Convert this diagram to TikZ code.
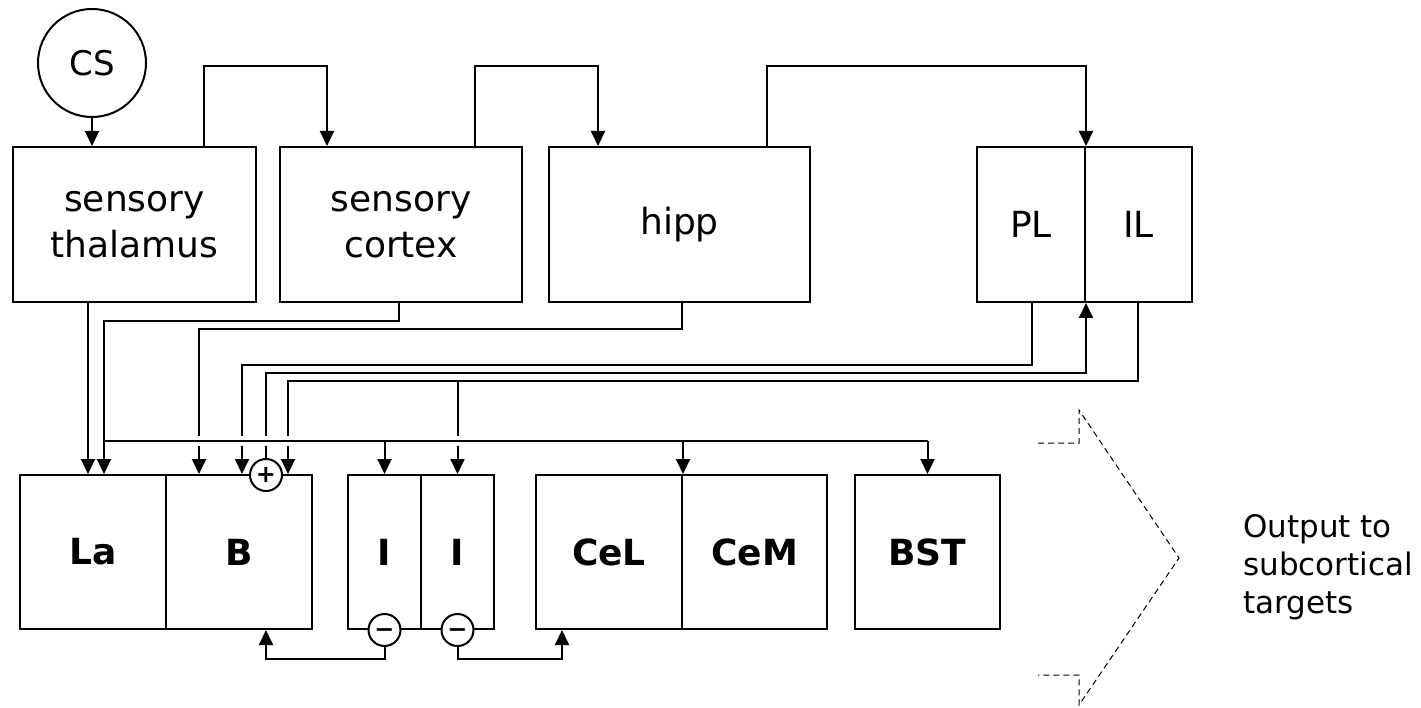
\documentclass[tikz,border=0pt]{standalone}
\usepackage{fontspec}
\setmainfont{DejaVu Sans}
\usetikzlibrary{arrows.meta}

\tikzset{
  area/.style={draw, line width=2pt, minimum height=155pt, inner sep=0pt, align=center, font=\fontsize{36}{46}\selectfont},
  nucleus/.style={draw, line width=2pt, minimum height=154pt, inner sep=0pt, font=\bfseries\fontsize{36}{46}\selectfont},
  sign/.style={draw, circle, fill=white, line width=2pt, minimum size=32pt, inner sep=0pt, font=\bfseries\fontsize{24}{24}\selectfont},
  wire/.style={line width=2pt, -{Triangle[length=15pt, width=14pt]}},
}

\begin{document}
\begin{tikzpicture}[x=1pt, y=-1pt]
    \useasboundingbox (0,0) rectangle (1421,708);

    % Define the routing rows
    \coordinate (over) at (0,66);
    \coordinate (ctxRow) at (0,321);
    \coordinate (hippRow) at (0,329);
    \coordinate (plRow) at (0,365);
    \coordinate (bRow) at (0,373);
    \coordinate (ilRow) at (0,381);
    \coordinate (busRow) at (0,441);
    \coordinate (underRow) at (0,659);

    % Define the pin columns
    \coordinate (thalUp) at (204,0);
    \coordinate (ctxIn) at (327,0);
    \coordinate (ctxUp) at (475,0);
    \coordinate (hippIn) at (598,0);
    \coordinate (hippUp) at (767,0);
    \coordinate (thalDown) at (88,0);
    \coordinate (laIn) at (104,0);
    \coordinate (ctxDown) at (399,0);
    \coordinate (hippDown) at (682,0);
    \coordinate (bInA) at (199,0);
    \coordinate (plDown) at (1032,0);
    \coordinate (bInB) at (242,0);
    \coordinate (ilDown) at (1138,0);
    \coordinate (bInC) at (288,0);
    \coordinate (celBack) at (562,0);

    % Cortical and thalamic areas
    \node[draw, circle, line width=2pt, minimum size=108pt, inner sep=0pt, font=\fontsize{34}{34}\selectfont] (CS) at (92,63) {CS};
    \node[area, minimum width=243pt] (thal) at (134.5,224.5) {sensory\\thalamus};
    \node[area, minimum width=242pt] (ctx) at (401,224.5) {sensory\\cortex};
    \node[area, minimum width=261pt] (hipp) at (679.5,224.5) {hipp};
    \node[area, minimum width=108pt] (PL) at (1031,224.5) {PL};
    \node[area, minimum width=107pt] (IL) at (1138.5,224.5) {IL};

    % Amygdala nuclei
    \node[nucleus, minimum width=146pt] (La) at (93,552) {La};
    \node[nucleus, minimum width=146pt] (B) at (239,552) {B};
    \node[nucleus, minimum width=73pt] (I1) at (384.5,552) {I};
    \node[nucleus, minimum width=73pt] (I2) at (457.5,552) {I};
    \node[nucleus, minimum width=146pt] (CeL) at (609,552) {CeL};
    \node[nucleus, minimum width=145pt] (CeM) at (754.5,552) {CeM};
    \node[nucleus, minimum width=145pt] (BST) at (927.5,552) {BST};

    % Excitatory and inhibitory signs
    \node[sign] (plus) at (266,475) {+};
    \node[sign] (minusA) at (I1.south) {\vphantom{+}−};
    \node[sign] (minusB) at (I2.south) {\vphantom{+}−};

    % Draw the upper connections
    \draw[wire] (CS) -- (CS |- thal.north);
    \draw[wire] (thal.north -| thalUp) |- (over -| ctxIn) -- (ctx.north -| ctxIn);
    \draw[wire] (ctx.north -| ctxUp) |- (over -| hippIn) -- (hipp.north -| hippIn);
    \draw[wire] (hipp.north -| hippUp) |- (over -| PL.north east) -- (PL.north east);

    % Draw the inputs to B and the prefrontal loop
    \draw[wire] (hipp.south -| hippDown) |- (hippRow -| bInA) -- (B.north -| bInA);
    \draw[wire] (PL.south -| plDown) |- (plRow -| bInB) -- (B.north -| bInB);
    \draw[wire] (plus.north) |- (bRow -| PL.south east) -- (PL.south east);
    \draw[wire] (IL.south -| ilDown) |- (ilRow -| bInC) -- (B.north -| bInC);
    \draw[wire] (ilRow -| I2.north) -- (I2.north);

    % Draw the lateral output bus
    \draw[line width=2pt, preaction={draw=white, line width=10pt}] (busRow -| laIn) -- (busRow -| BST.north);
    \foreach \t in {I1.north, CeL.north east, BST.north}
        \draw[wire] (busRow -| \t) -- (\t);

    % Draw the inputs to La
    \draw[wire] (thal.south -| thalDown) -- (La.north -| thalDown);
    \draw[wire] (ctx.south -| ctxDown) |- (ctxRow -| laIn) -- (La.north -| laIn);

    % Draw the inhibitory connections
    \draw[wire] (minusA.south) |- (underRow -| plus) -- (B.south -| plus);
    \draw[wire] (minusB.south) |- (underRow -| celBack) -- (CeL.south -| celBack);

    % Output arrow
    \draw[line width=1pt, dash pattern=on 6pt off 4pt] (1038,443) -- (1079,443) -- (1079,410) -- (1179,558) -- (1079,705) -- (1079,675) -- (1038,675);
    \node[anchor=west, align=left, inner sep=0pt, font=\fontsize{31}{38}\selectfont] (out) at (1243,567) {Output to\\subcortical\\targets};
\end{tikzpicture}
\end{document}
